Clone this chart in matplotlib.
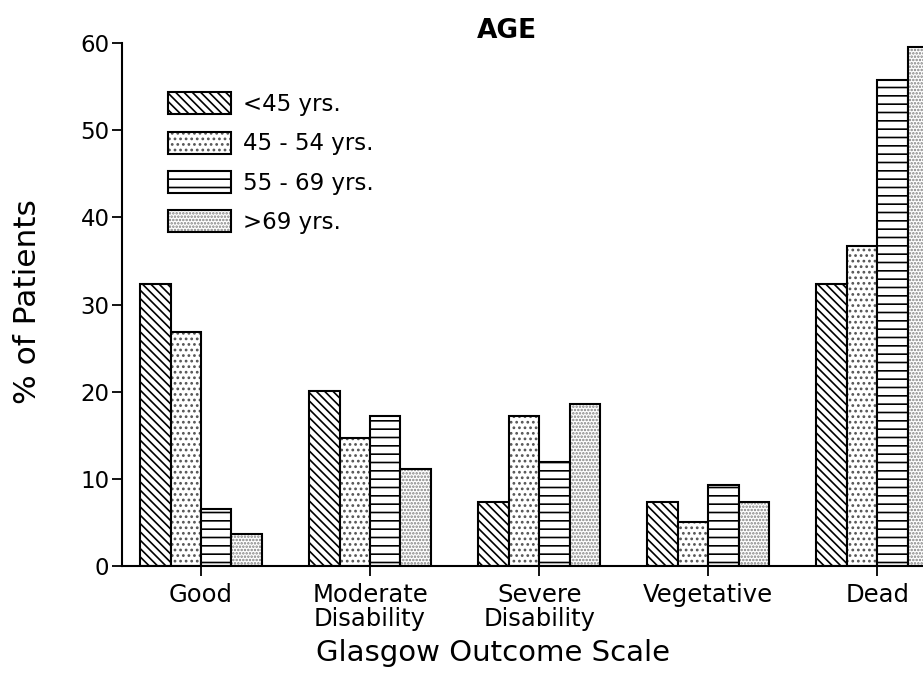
import matplotlib
matplotlib.use("Agg")
import matplotlib.pyplot as plt
import numpy as np

plt.rcParams["font.family"] = ["DejaVu Sans"]
plt.rcParams["hatch.linewidth"] = 1.2

categories = ["Good", "Moderate\nDisability", "Severe\nDisability", "Vegetative", "Dead"]
age_groups = ["<45 yrs.", "45 - 54 yrs.", "55 - 69 yrs.", ">69 yrs."]
pct_under45 = [32.4, 20.1, 7.3, 7.3, 32.4]
pct_45_54 = [26.8, 14.7, 17.2, 5.0, 36.7]
pct_55_69 = [6.5, 17.2, 11.9, 9.3, 55.7]
pct_over69 = [3.7, 11.1, 18.6, 7.3, 59.5]
series = [pct_under45, pct_45_54, pct_55_69, pct_over69]
hatches = ["\\\\\\\\", "...", "--", "....."]
hatch_colors = ["black", "#555555", "black", "#808080"]
y_ticks = [0, 10, 20, 30, 40, 50, 60]

fig = plt.figure(figsize=(9.23, 6.94), dpi=100)
ax = fig.add_axes([122 / 923, 128 / 694, 1 - 122 / 923, 523 / 694])

x = np.arange(len(categories))
width = 0.18
handles = []
for i, (vals, h, hc, lab) in enumerate(zip(series, hatches, hatch_colors, age_groups)):
    pos = x + (i - 1.5) * width
    fill = ax.bar(pos, vals, width, facecolor="white", edgecolor=hc,
                  linewidth=0, hatch=h)
    outline = ax.bar(pos, vals, width, facecolor="none", edgecolor="black",
                     linewidth=1.5)
    handles.append((fill[0], outline[0]))

ax.set_xlim(-0.467, 4.27)
ax.set_ylim(0, 60)
ax.set_yticks(y_ticks)
ax.set_xticks(x)
ax.set_xticklabels(categories, fontsize=17.5, linespacing=1.0)
ax.tick_params(axis="y", labelsize=16.5, length=7, width=1.3, direction="out", pad=2)
ax.tick_params(axis="x", length=7, width=1.3, direction="out", pad=5)
for side in ("top", "right"):
    ax.spines[side].set_visible(False)
for side in ("left", "bottom"):
    ax.spines[side].set_linewidth(1.5)

ax.legend(handles, age_groups, loc="upper left", bbox_to_anchor=(0.057, 0.906),
          frameon=False, borderpad=0, fontsize=16.5, handlelength=2.75,
          handleheight=1.1, labelspacing=0.68, handletextpad=0.55,
          borderaxespad=0)

fig.text(507 / 923, 1 - 31 / 694, "AGE", ha="center", va="center",
         fontsize=19, fontweight="bold")
fig.text(493 / 923, 1 - 653 / 694, "Glasgow Outcome Scale", ha="center",
         va="center", fontsize=21)
fig.text(28 / 923, 1 - 302 / 694, "% of Patients", ha="center", va="center",
         rotation=90, fontsize=22.5)

fig.savefig("out.png", dpi=100)
